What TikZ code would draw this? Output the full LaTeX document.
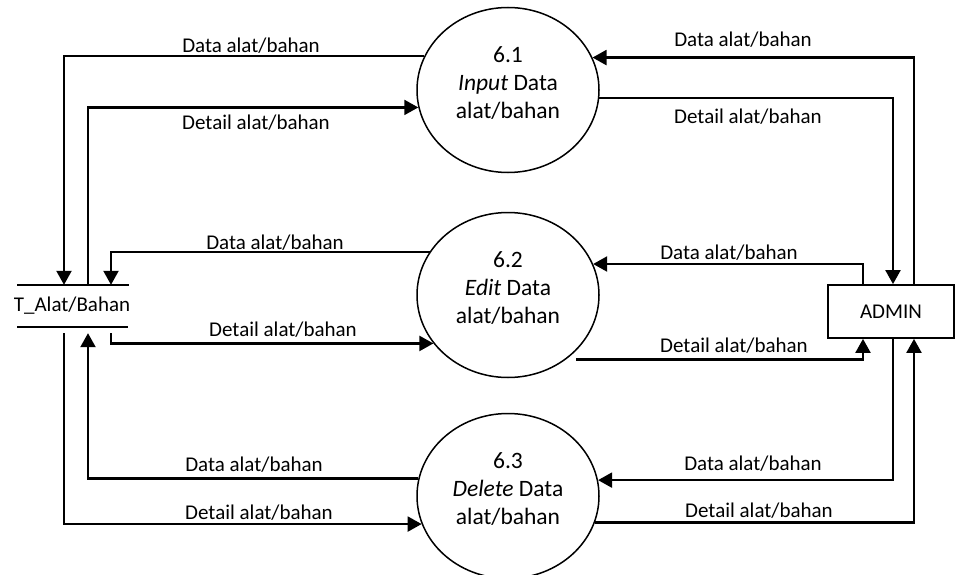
\documentclass[tikz,border=0pt]{standalone}
\usepackage{fontspec}
\setmainfont{Carlito}
\usetikzlibrary{shapes.geometric,arrows.meta}

\begin{document}
\begin{tikzpicture}[x=1pt,y=1pt,
  flow/.style={line width=2.2pt, -{Triangle[length=14pt,width=15pt]}},
  process/.style={ellipse, draw, line width=1.5pt, minimum width=182pt,
    minimum height=165pt, inner sep=0pt, align=center, text depth=15pt,
    font=\fontsize{23.5}{28}\selectfont},
  storeline/.style={line width=1.8pt},
  entity/.style={rectangle, draw, line width=1.8pt, minimum width=126pt,
    minimum height=53pt, inner sep=0pt, font=\fontsize{21}{25}\selectfont},
  flowlabel/.style={anchor=base, inner sep=0pt, font=\fontsize{21}{25}\selectfont}
]
\useasboundingbox (0,0) rectangle (956,-575);

% processes
\node[process] (p61) at (508,-90)  {6.1\\\textit{Input} Data\\alat/bahan};
\node[process] (p62) at (508,-295) {6.2\\\textit{Edit} Data\\alat/bahan};
\node[process] (p63) at (508,-496) {6.3\\\textit{Delete} Data\\alat/bahan};

% data store
\node[inner sep=0pt, minimum height=42pt, font=\fontsize{21}{25}\selectfont]
  (store) at (72,-306) {T\_Alat/Bahan};
\draw[storeline] ([xshift=-55pt]store.north) -- ([xshift=57pt]store.north);
\draw[storeline] ([xshift=-55pt]store.south) -- ([xshift=56pt]store.south);

% external entity
\node[entity] (admin) at (891,-311.5) {ADMIN};

% flows between the store and the processes
\draw[flow] (p61.158.4) -| ([xshift=-8pt]store.north);
\draw[flow] ([xshift=16pt]store.north) |- (p61.191.5);
\draw[flow] (p62.151.8) -| ([xshift=39pt]store.north);
\draw[flow] ([xshift=39pt,yshift=-6pt]store.south) |- (p62.213.9);
\draw[flow] (p63.169.2) -| ([xshift=16pt,yshift=-6pt]store.south);
\draw[flow] ([xshift=-8pt,yshift=-6pt]store.south) |- (p63.198.1);

% flows between ADMIN and the processes
\draw[flow] ([xshift=23pt]admin.north) |- (p61.21.6);
\draw[flow] (p61.-5) -| ([xshift=2pt]admin.north);
\draw[flow] ([xshift=-28pt]admin.north) |- (p62.20.9);
\draw[flow, shorten <=10pt] (p62.-48.3) -| ([xshift=-28pt]admin.south);
\draw[flow] ([xshift=2pt]admin.south) |- (p63.10.8);
\draw[flow] (p63.-17.5) -| ([xshift=23pt]admin.south);

% flow labels
\node[flowlabel] (l1) at (251,-53)  {Data alat/bahan};
\node[flowlabel] (l2) at (256,-130) {Detail alat/bahan};
\node[flowlabel] (l3) at (275,-249) {Data alat/bahan};
\node[flowlabel] (l4) at (283,-336) {Detail alat/bahan};
\node[flowlabel] (l5) at (254,-471) {Data alat/bahan};
\node[flowlabel] (l6) at (259,-519) {Detail alat/bahan};
\node[flowlabel] (r1) at (743,-47)  {Data alat/bahan};
\node[flowlabel] (r2) at (748,-124) {Detail alat/bahan};
\node[flowlabel] (r3) at (729,-259) {Data alat/bahan};
\node[flowlabel] (r4) at (734,-352) {Detail alat/bahan};
\node[flowlabel] (r5) at (753,-470) {Data alat/bahan};
\node[flowlabel] (r6) at (759,-517) {Detail alat/bahan};
\end{tikzpicture}
\end{document}
